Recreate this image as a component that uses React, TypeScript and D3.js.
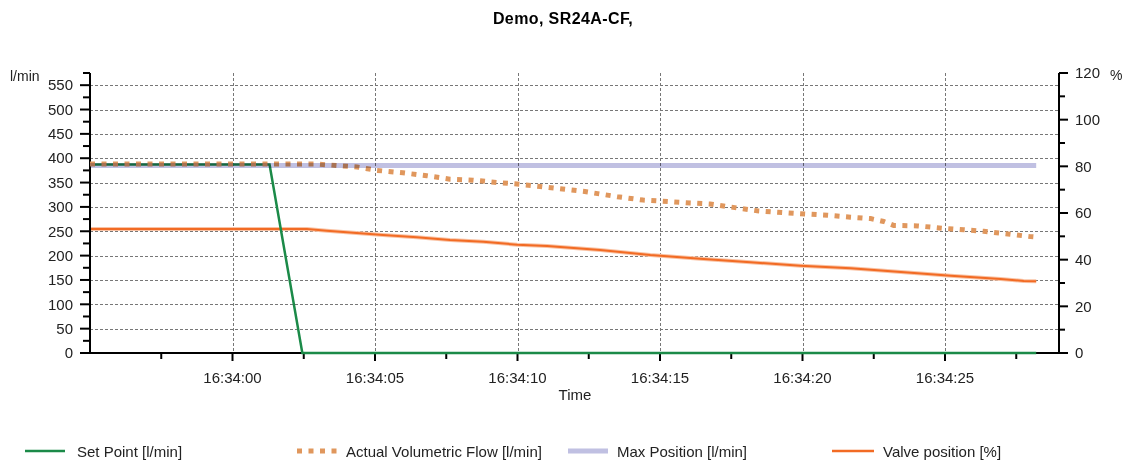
import React from "react";
import * as d3 from "d3";

// ---- Data (time offsets in seconds relative to 16:34:00) ----
const setPointT = [-5, 1.3, 2.45, 28.2];
const setPointV = [387, 387, 0, 0];

const flowT = [-5, 2.96, 4.37, 5.07, 5.98, 6.82, 7.63, 8.44, 9.28, 9.99, 10.79, 12.3, 13.5, 14.41, 15.0, 16.06, 16.76, 17.57, 18.41, 19.12, 19.93, 20.88, 21.69, 22.39, 22.85, 23.2, 24.04, 24.96, 25.66, 26.36, 26.95, 28.0, 28.2];
const flowV = [388, 388, 382, 375, 370, 364, 357, 355, 350, 347, 342, 332, 321, 314, 312, 308, 306, 299, 292, 289, 286, 283, 279, 276, 270, 262, 261, 256, 253, 250, 246, 239, 238];

const maxPosT = [-5, 28.2];
const maxPosV = [385, 385];

const valveT = [-5, 2.61, 3.31, 4.12, 5.28, 6.47, 7.63, 8.8, 9.99, 11.04, 12.9, 14.66, 16.41, 18.17, 19.93, 21.69, 23.45, 25.2, 26.95, 27.76, 28.2];
const valveV = [53.1, 53.1, 52.4, 51.6, 50.6, 49.6, 48.4, 47.7, 46.4, 45.9, 44.1, 42.0, 40.4, 38.9, 37.4, 36.3, 34.7, 33.1, 31.7, 30.9, 30.8];

const leftTicks = [0, 50, 100, 150, 200, 250, 300, 350, 400, 450, 500, 550];
const rightTicks = [0, 20, 40, 60, 80, 100, 120];
const timeTickOffsets = [0, 5, 10, 15, 20, 25];

const title = "Demo, SR24A-CF,";
const legendItems = ["Set Point [l/min]", "Actual Volumetric Flow [l/min]", "Max Position [l/min]", "Valve position [%]"];

const BASE = new Date(2020, 0, 1, 16, 34, 0).getTime();
const toDate = (s: number) => new Date(BASE + s * 1000);

const FONT = "'Liberation Sans', Arial, sans-serif";

export default function App() {
  const W = 1129, H = 462;
  const x = d3.scaleTime().domain([toDate(-5), toDate(29)]).range([90, 1059]);
  const yL = d3.scaleLinear().domain([0, 575]).range([353, 73]);
  const yR = d3.scaleLinear().domain([0, 120]).range([353, 73]);

  const lineL = (ts: number[], vs: number[]) =>
    d3.line<number>().x((_, i) => x(toDate(ts[i]))).y((d) => yL(d))(vs) || "";
  const lineR = (ts: number[], vs: number[]) =>
    d3.line<number>().x((_, i) => x(toDate(ts[i]))).y((d) => yR(d))(vs) || "";

  const fmt = d3.timeFormat("%H:%M:%S");
  const leftMinor = d3.range(25, 576, 50);
  const rightMinor = d3.range(10, 120, 20);
  const timeMinor = [-2.5, 2.5, 7.5, 12.5, 17.5, 22.5, 27.5];

  const [x0, x1] = x.range();
  const [yb, yt] = yL.range();

  const legendX = [25, 297, 568, 822];

  return (
    <svg width={W} height={H} style={{ position: "absolute", left: 0, top: 0, background: "#fff" }} fontFamily={FONT}>
      <rect width={W} height={H} fill="#fff" />
      <text x={563} y={24} textAnchor="middle" fontWeight="bold" fontSize={16} letterSpacing={0.4} fill="#000">{title}</text>

      {/* gridlines */}
      <g stroke="#777" strokeWidth={1} strokeDasharray="3 2">
        {leftTicks.filter((t) => t > 0).map((t) => (
          <line key={"h" + t} x1={x0} x2={x1} y1={Math.round(yL(t)) + 0.5} y2={Math.round(yL(t)) + 0.5} />
        ))}
        {timeTickOffsets.map((s) => (
          <line key={"v" + s} x1={Math.round(x(toDate(s))) + 0.5} x2={Math.round(x(toDate(s))) + 0.5} y1={yt} y2={yb} />
        ))}
      </g>

      {/* series */}
      <path d={lineR(valveT, valveV)} fill="none" stroke="#f9c3a5" strokeWidth={4} />
      <path d={lineR(valveT, valveV)} fill="none" stroke="#f26b24" strokeWidth={2} />

      {/* axes */}
      <g stroke="#000" strokeWidth={2}>
        <line x1={x0} x2={x0} y1={yt} y2={yb + 1} />
        <line x1={x1} x2={x1} y1={yt} y2={yb + 1} />
        <line x1={x0} x2={x1} y1={yb} y2={yb} />
        {leftTicks.map((t) => <line key={"lt" + t} x1={x0 - 10} x2={x0} y1={yL(t)} y2={yL(t)} />)}
        {leftMinor.map((t) => <line key={"lm" + t} x1={x0 - 7} x2={x0} y1={yL(t)} y2={yL(t)} />)}
        {rightTicks.map((t) => <line key={"rt" + t} x1={x1} x2={x1 + 9} y1={yR(t)} y2={yR(t)} />)}
        {rightMinor.map((t) => <line key={"rm" + t} x1={x1} x2={x1 + 6} y1={yR(t)} y2={yR(t)} />)}
        {timeTickOffsets.map((s) => <line key={"xt" + s} x1={x(toDate(s))} x2={x(toDate(s))} y1={yb} y2={yb + 8} />)}
        {timeMinor.map((s) => <line key={"xm" + s} x1={x(toDate(s))} x2={x(toDate(s))} y1={yb} y2={yb + 6} />)}
      </g>

      {/* set point drawn over the axis, flow over set point */}
      <path d={lineL(setPointT, setPointV)} fill="none" stroke="#1b8a48" strokeWidth={2.5} />
      <path d={lineL(flowT, flowV)} fill="none" stroke="#e0975d" strokeWidth={5} strokeDasharray="5 6.5" />
      <path d={lineL(maxPosT, maxPosV)} fill="none" stroke="#c0c0e2" strokeWidth={5} style={{ mixBlendMode: "multiply" }} />

      <g fontSize={15} fill="#222">
        {leftTicks.map((t) => (
          <text key={"ll" + t} x={73} y={yL(t)} dy="0.35em" textAnchor="end">{t}</text>
        ))}
        {rightTicks.map((t) => (
          <text key={"rl" + t} x={1075} y={yR(t)} dy="0.35em" textAnchor="start">{t}</text>
        ))}
        {timeTickOffsets.map((s) => (
          <text key={"tl" + s} x={x(toDate(s))} y={383} textAnchor="middle">{fmt(toDate(s))}</text>
        ))}
        <text x={575} y={400} textAnchor="middle">Time</text>
        <text x={10} y={81} fontSize={14}>l/min</text>
        <text x={1110} y={80} fontSize={14}>%</text>
      </g>

      {/* legend */}
      <g fontSize={15} fill="#222">
        <line x1={legendX[0]} x2={legendX[0] + 40} y1={451} y2={451} stroke="#1b8a48" strokeWidth={2.5} />
        <text x={legendX[0] + 52} y={457}>{legendItems[0]}</text>
        <line x1={legendX[1]} x2={legendX[1] + 40} y1={451} y2={451} stroke="#e0975d" strokeWidth={5} strokeDasharray="5 6.5" />
        <text x={legendX[1] + 49} y={457}>{legendItems[1]}</text>
        <line x1={legendX[2]} x2={legendX[2] + 40} y1={451} y2={451} stroke="#c0c0e2" strokeWidth={5} />
        <text x={legendX[2] + 49} y={457}>{legendItems[2]}</text>
        <line x1={legendX[3] + 10} x2={legendX[3] + 52} y1={451} y2={451} stroke="#f26b24" strokeWidth={2.5} />
        <text x={legendX[3] + 61} y={457}>{legendItems[3]}</text>
      </g>
    </svg>
  );
}
